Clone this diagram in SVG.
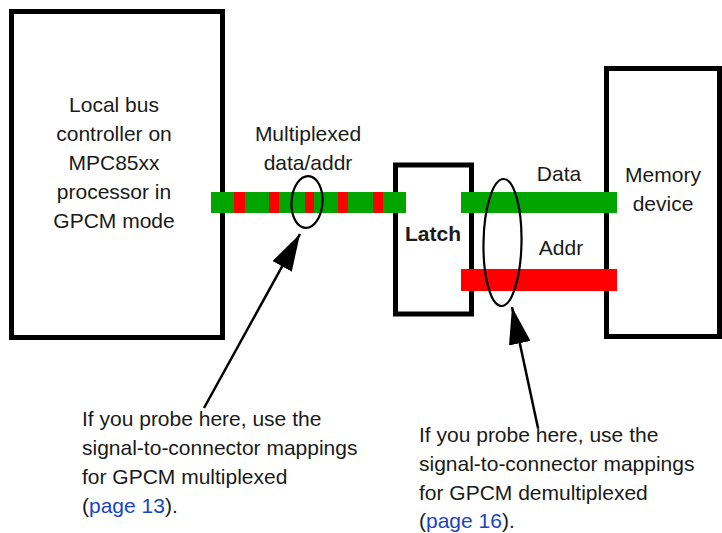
<svg xmlns="http://www.w3.org/2000/svg" width="722" height="533" viewBox="0 0 722 533">
<defs>
<style>
.box{fill:#fff;stroke:#000;stroke-width:5}
.t{font-family:"Liberation Sans",Arial,sans-serif;font-size:21px;fill:#1a1a1a}
.c{text-anchor:middle}
.b{font-weight:bold}
.g{fill:#00a500}
.r{fill:#ff0000}
.ell{fill:none;stroke:#000;stroke-width:2.2}
.arr{fill:none;stroke:#000;stroke-width:2.5}
.lnk{fill:#1a44c4}
</style>
<marker id="ah" viewBox="0 -11 37 22" markerWidth="37" markerHeight="22" markerUnits="userSpaceOnUse" refX="37" refY="0" orient="auto">
<path d="M0,-11 L37,0 L0,11 Z" fill="#000"/>
</marker>
</defs>
<rect width="722" height="533" fill="#fff"/>

<g id="controller">
<rect class="box" x="11.5" y="11.5" width="211" height="326"/>
<text class="t c" x="114" y="112">Local bus</text>
<text class="t c" x="114" y="141">controller on</text>
<text class="t c" x="114" y="170">MPC85xx</text>
<text class="t c" x="114" y="199">processor in</text>
<text class="t c" x="114" y="228">GPCM mode</text>
</g>

<g id="latch">
<rect class="box" x="395.5" y="165" width="76" height="149"/>
<text class="t c b" x="433" y="241">Latch</text>
</g>

<g id="memory">
<rect class="box" x="606.5" y="68.5" width="113" height="268"/>
<text class="t c" x="663" y="182">Memory</text>
<text class="t c" x="663" y="211">device</text>
</g>

<g id="connectors">
<g id="mux-bus">
<rect class="g" x="211" y="192" width="195" height="21"/>
<rect class="r" x="234" y="192" width="11" height="21"/>
<rect class="r" x="269" y="192" width="10" height="21"/>
<rect class="r" x="305" y="192" width="9" height="21"/>
<rect class="r" x="338" y="192" width="10" height="21"/>
<rect class="r" x="373" y="192" width="10" height="21"/>
</g>
<rect id="data-bus" class="g" x="461" y="192" width="156" height="21"/>
<rect id="addr-bus" class="r" x="461" y="269" width="156" height="22"/>
<ellipse class="ell" cx="307" cy="202" rx="15.5" ry="26" transform="rotate(4 307 202)"/>
<ellipse class="ell" cx="502.5" cy="242.5" rx="19" ry="63.5" transform="rotate(1 502.5 242.5)"/>
<path class="arr" d="M204,408 L300,234" marker-end="url(#ah)"/>
<path class="arr" d="M538,428 L512,307" marker-end="url(#ah)"/>
</g>

<g id="labels">
<text class="t c" x="308" y="141">Multiplexed</text>
<text class="t c" x="308" y="170">data/addr</text>
<text class="t c" x="559" y="181">Data</text>
<text class="t c" x="561" y="255">Addr</text>
</g>

<g id="note-mux">
<text class="t" x="82" y="426">If you probe here, use the</text>
<text class="t" x="82" y="455">signal-to-connector mappings</text>
<text class="t" x="82" y="484">for GPCM multiplexed</text>
<text class="t" x="82" y="513">(<tspan class="lnk">page 13</tspan>).</text>
</g>

<g id="note-demux">
<text class="t" x="419" y="442">If you probe here, use the</text>
<text class="t" x="419" y="471">signal-to-connector mappings</text>
<text class="t" x="419" y="500">for GPCM demultiplexed</text>
<text class="t" x="419" y="528">(<tspan class="lnk">page 16</tspan>).</text>
</g>
</svg>
